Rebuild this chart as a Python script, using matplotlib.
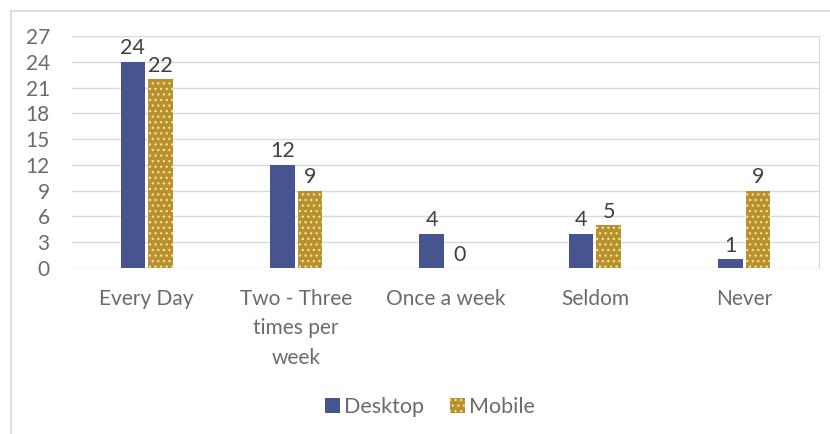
import matplotlib.pyplot as plt
import numpy as np
from matplotlib.lines import Line2D

categories = ["Every Day", "Two - Three\ntimes per\nweek", "Once a week", "Seldom", "Never"]
desktop = [24, 12, 4, 4, 1]
mobile = [22, 9, 0, 5, 9]
yticks = [0, 3, 6, 9, 12, 15, 18, 21, 24, 27]

blue = "#46558f"
gold = "#b8902c"
grey = "#6b6b6b"

plt.rcParams['font.family'] = ['Lato', 'DejaVu Sans']
plt.rcParams['hatch.color'] = '#f3e3a8'
plt.rcParams['hatch.linewidth'] = 0.9

fig = plt.figure(figsize=(8.3, 4.34), dpi=100)
ax = fig.add_axes([72 / 830, 1 - 268 / 434, (819 - 72) / 830, (268 - 36) / 434])

x = np.arange(len(categories))
w = 0.165
b1 = ax.bar(x - w / 2 - 0.01, desktop, width=w, color=blue, label='Desktop', zorder=3)
b2 = ax.bar(x + w / 2 + 0.01, mobile, width=w, color=gold, hatch='...', linewidth=0,
            label='Mobile', zorder=3)

for rect, v in zip(list(b1) + list(b2), desktop + mobile):
    ax.text(rect.get_x() + rect.get_width() / 2, v + 0.4, str(v), ha='center', va='bottom',
            fontsize=15.5, color='#404040')

ax.set_xlim(-0.5, len(categories) - 0.5)
ax.set_ylim(0, 27)
ax.set_yticks(yticks)
ax.set_xticks(x)
ax.set_xticklabels(categories, fontsize=15, color=grey, linespacing=1.6, va='top')
ax.tick_params(axis='y', labelsize=15, labelcolor=grey, length=0, pad=16)
ax.tick_params(axis='x', length=0, pad=15)
ax.grid(axis='y', color='#d9d9d9', linewidth=1, zorder=0)
for s in ['left', 'top', 'bottom']:
    ax.spines[s].set_visible(False)
ax.spines['right'].set_color('#d9d9d9')

# outer chart frame
fig.add_artist(Line2D([11 / 830, 1], [1 - 11 / 434] * 2, color='#d9d9d9', lw=1.2))
fig.add_artist(Line2D([11 / 830] * 2, [0, 1 - 11 / 434], color='#d9d9d9', lw=1.2))

fig.legend(handles=[b1, b2], loc='center', bbox_to_anchor=(430 / 830, 1 - 407 / 434),
           ncol=2, frameon=False, fontsize=15.5, labelcolor=grey, handlelength=0.7,
           handleheight=0.7, handletextpad=0.2, columnspacing=1.2)

plt.savefig("out.png")
